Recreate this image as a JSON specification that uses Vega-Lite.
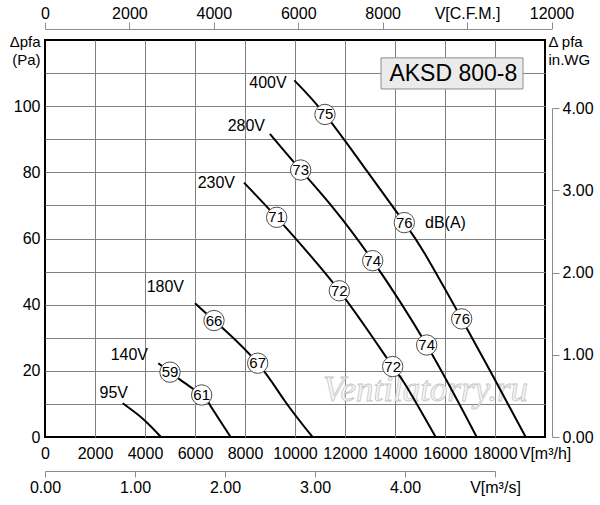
{
  "$schema": "https://vega.github.io/schema/vega-lite/v6.json",
  "description": "AKSD 800-8 fan curves",
  "width": 500,
  "height": 397,
  "autosize": {"type": "none"},
  "padding": {"left": 45, "top": 40, "right": 55, "bottom": 68},
  "background": "white",
  "datasets": {
    "curves": [
      {"v": "400V", "q": 9973, "p": 107.8}, {"v": "400V", "q": 11200, "p": 97.5}, {"v": "400V", "q": 12867, "p": 80.5},
      {"v": "400V", "q": 14373, "p": 64.8}, {"v": "400V", "q": 15200, "p": 55.3}, {"v": "400V", "q": 16667, "p": 35.7},
      {"v": "400V", "q": 17933, "p": 18.2}, {"v": "400V", "q": 19227, "p": 0},
      {"v": "280V", "q": 9000, "p": 91.6}, {"v": "280V", "q": 10227, "p": 80.7}, {"v": "280V", "q": 11533, "p": 69.2},
      {"v": "280V", "q": 13107, "p": 53.3}, {"v": "280V", "q": 15267, "p": 27.8}, {"v": "280V", "q": 17267, "p": 0},
      {"v": "230V", "q": 7960, "p": 76.9}, {"v": "230V", "q": 9267, "p": 66.4}, {"v": "230V", "q": 10600, "p": 55},
      {"v": "230V", "q": 11773, "p": 44.2}, {"v": "230V", "q": 13000, "p": 31.3}, {"v": "230V", "q": 13907, "p": 21.3},
      {"v": "230V", "q": 14467, "p": 15.2}, {"v": "230V", "q": 15627, "p": 0},
      {"v": "180V", "q": 6000, "p": 40.4}, {"v": "180V", "q": 6760, "p": 35.2}, {"v": "180V", "q": 7200, "p": 32.3},
      {"v": "180V", "q": 8507, "p": 22.3}, {"v": "180V", "q": 9600, "p": 10.8}, {"v": "180V", "q": 10700, "p": 0},
      {"v": "140V", "q": 4533, "p": 22.3}, {"v": "140V", "q": 5000, "p": 19.6}, {"v": "140V", "q": 5427, "p": 17.2},
      {"v": "140V", "q": 6267, "p": 12.7}, {"v": "140V", "q": 6600, "p": 9.7}, {"v": "140V", "q": 7427, "p": 0},
      {"v": "95V", "q": 3107, "p": 10.2}, {"v": "95V", "q": 3933, "p": 5.4}, {"v": "95V", "q": 4640, "p": 0}
    ],
    "noise": [
      {"db": "75", "q": 11200, "p": 97.5}, {"db": "73", "q": 10227, "p": 80.7}, {"db": "71", "q": 9267, "p": 66.4},
      {"db": "76", "q": 14373, "p": 64.8}, {"db": "74", "q": 13107, "p": 53.3}, {"db": "72", "q": 11773, "p": 44.2},
      {"db": "66", "q": 6760, "p": 35.2}, {"db": "67", "q": 8507, "p": 22.3}, {"db": "76", "q": 16667, "p": 35.7},
      {"db": "74", "q": 15267, "p": 27.8}, {"db": "72", "q": 13907, "p": 21.3}, {"db": "59", "q": 5000, "p": 19.6},
      {"db": "61", "q": 6267, "p": 12.7}
    ],
    "voltages": [
      {"t": "400V", "q": 9668, "p": 106.9}, {"t": "280V", "q": 8800, "p": 94.1}, {"t": "230V", "q": 7600, "p": 76.9},
      {"t": "180V", "q": 5560, "p": 45.2}, {"t": "140V", "q": 4120, "p": 24.8}, {"t": "95V", "q": 3320, "p": 13.4}
    ]
  },
  "layer": [
    {
      "encoding": {
        "x": {
          "field": "q", "type": "quantitative",
          "scale": {"domain": [0, 20000], "nice": false},
          "axis": {
            "orient": "bottom", "title": null, "domain": false, "ticks": false, "tickSize": 0,
            "values": [0, 2000, 4000, 6000, 8000, 10000, 12000, 14000, 16000, 18000, 20000],
            "format": "d", "labelExpr": "datum.value == 20000 ? 'V[m³/h]' : datum.label",
            "labelPadding": 8, "grid": true, "gridColor": "#808080", "gridWidth": 1,
            "gridOpacity": {"condition": {"test": "datum.value == 0 || datum.value == 20000", "value": 0}, "value": 1}
          }
        },
        "y": {
          "field": "p", "type": "quantitative",
          "scale": {"domain": [0, 120], "nice": false},
          "axis": {
            "orient": "left", "domain": false, "ticks": false, "tickSize": 0,
            "values": [0, 10, 20, 30, 40, 50, 60, 70, 80, 90, 100, 110, 120],
            "labelExpr": "datum.value % 20 == 0 && datum.value <= 100 ? datum.label : ''",
            "labelPadding": 5, "grid": true, "gridColor": "#808080", "gridWidth": 1,
            "gridOpacity": {"condition": {"test": "datum.value == 0 || datum.value == 120", "value": 0}, "value": 1},
            "title": ["Δpfa", "(Pa)"], "titleAngle": 0, "titleAlign": "right", "titleBaseline": "top",
            "titleX": -5, "titleY": -6, "titleFontSize": 15, "titleLineHeight": 18
          }
        }
      },
      "layer": [
        {
          "data": {"values": [{"t": "Ventilatorry.ru", "q": 15220, "p": 14.2}]},
          "mark": {"type": "text", "font": "Liberation Serif", "fontStyle": "italic", "fontSize": 35,
                   "fill": "#f6f6f6", "stroke": "#c6c6c6", "strokeWidth": 0.8},
          "encoding": {"text": {"field": "t"}}
        },
        {
          "data": {"values": [{"q": 13440, "q2": 19120, "p": 105.2, "p2": 114.6}]},
          "mark": {"type": "rect", "fill": "#ebebeb", "stroke": "#8c8c8c", "strokeWidth": 1},
          "encoding": {"x2": {"field": "q2"}, "y2": {"field": "p2"}}
        },
        {
          "data": {"values": [{"t": "AKSD 800-8", "q": 16333, "p": 109.8}]},
          "mark": {"type": "text", "fontSize": 23, "color": "black"},
          "encoding": {"text": {"field": "t"}}
        },
        {
          "data": {"name": "curves"},
          "mark": {"type": "line", "stroke": "black", "strokeWidth": 2, "interpolate": "natural"},
          "encoding": {"detail": {"field": "v"}}
        },
        {
          "data": {"name": "noise"},
          "mark": {"type": "point", "shape": "circle", "size": 415, "filled": true, "fill": "white",
                   "stroke": "#4d4d4d", "strokeWidth": 1, "opacity": 1}
        },
        {
          "data": {"name": "noise"},
          "mark": {"type": "text", "fontSize": 15, "color": "black"},
          "encoding": {"text": {"field": "db"}}
        },
        {
          "data": {"name": "voltages"},
          "mark": {"type": "text", "fontSize": 16, "align": "right", "color": "black"},
          "encoding": {"text": {"field": "t"}}
        },
        {
          "data": {"values": [{"t": "dB(A)", "q": 15200, "p": 64.6}]},
          "mark": {"type": "text", "fontSize": 16, "align": "left", "color": "black"},
          "encoding": {"text": {"field": "t"}}
        }
      ]
    },
    {
      "data": {"values": [{"cfm": 0}]},
      "mark": {"type": "point", "opacity": 0},
      "encoding": {
        "x": {
          "field": "cfm", "type": "quantitative",
          "scale": {"domain": [0, 12000], "range": [0, 506.5], "nice": false},
          "axis": {
            "orient": "top", "offset": 11, "title": null, "grid": false,
            "values": [0, 2000, 4000, 6000, 8000, 10000, 12000], "format": "d",
            "labelExpr": "datum.value == 10000 ? 'V[C.F.M.]' : datum.label",
            "domainColor": "#8c8c8c", "tickColor": "#8c8c8c", "tickSize": 7, "labelPadding": 1
          }
        }
      }
    },
    {
      "data": {"values": [{"ms": 0}]},
      "mark": {"type": "point", "opacity": 0},
      "encoding": {
        "x": {
          "field": "ms", "type": "quantitative",
          "scale": {"domain": [0, 5], "range": [0, 450], "nice": false},
          "axis": {
            "orient": "bottom", "offset": 34, "title": null, "grid": false,
            "values": [0, 1, 2, 3, 4, 5], "format": ".2f",
            "labelExpr": "datum.value == 5 ? 'V[m³/s]' : datum.label",
            "domainColor": "#8c8c8c", "tickColor": "#8c8c8c", "tickSize": 6, "labelPadding": 2
          }
        }
      }
    },
    {
      "data": {"values": [{"wg": 0}]},
      "mark": {"type": "point", "opacity": 0},
      "encoding": {
        "y": {
          "field": "wg", "type": "quantitative",
          "scale": {"domain": [0, 4], "range": [397, 68], "nice": false, "zero": false},
          "axis": {
            "orient": "right", "offset": 7, "grid": false,
            "values": [0, 1, 2, 3, 4], "format": ".2f",
            "domainColor": "#8c8c8c", "tickColor": "#8c8c8c", "tickSize": 7, "labelPadding": 3,
            "title": ["Δ pfa", "in.WG"], "titleAngle": 0, "titleAlign": "left", "titleBaseline": "top",
            "titleX": -4, "titleY": -6, "titleFontSize": 15, "titleLineHeight": 18
          }
        }
      }
    }
  ],
  "resolve": {
    "scale": {"x": "independent", "y": "independent"},
    "axis": {"x": "independent", "y": "independent"}
  },
  "config": {
    "view": {"stroke": "black", "strokeWidth": 2},
    "font": "Liberation Sans",
    "text": {"font": "Liberation Sans"},
    "axis": {
      "labelFont": "Liberation Sans", "titleFont": "Liberation Sans", "labelColor": "black", "titleColor": "black",
      "labelFontSize": 16, "titleFontWeight": "normal", "labelFlush": false, "labelOverlap": false, "labelBound": false
    }
  }
}
